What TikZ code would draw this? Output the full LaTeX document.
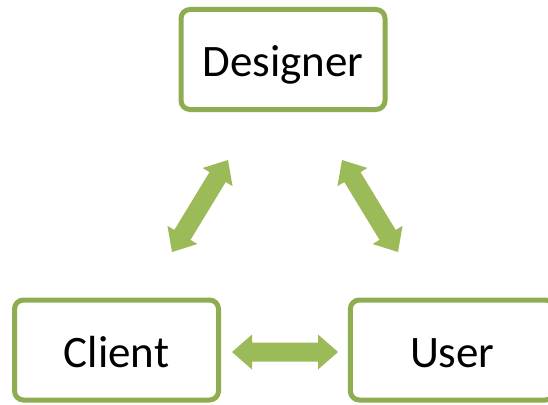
\documentclass[tikz,border=0pt]{standalone}
\usepackage{fontspec}
\setmainfont{Carlito}
\usetikzlibrary{calc}
\definecolor{boxline}{HTML}{8EAC50}
\definecolor{arrowfill}{HTML}{9BBB59}
\tikzset{
  rolebox/.style={draw=boxline, line width=5pt, rounded corners=9pt, fill=white,
    minimum width=204pt, minimum height=100pt, inner sep=0pt,
    text height=34pt, text depth=0pt,
    font=\fontsize{45}{54}\selectfont},
}
% double-headed block arrow between two named coordinates
\newcommand\blockarrow[2]{%
  \coordinate (h1) at ($(#1)!20pt!(#2)$);
  \coordinate (h2) at ($(#2)!20pt!(#1)$);
  \fill[arrowfill] (#1)
    -- ($(h1)!17.5pt!90:(#2)$) -- ($(h1)!9.5pt!90:(#2)$)
    -- ($(h2)!9.5pt!-90:(#1)$) -- ($(h2)!17.5pt!-90:(#1)$)
    -- (#2)
    -- ($(h2)!17.5pt!90:(#1)$) -- ($(h2)!9.5pt!90:(#1)$)
    -- ($(h1)!9.5pt!-90:(#2)$) -- ($(h1)!17.5pt!-90:(#2)$)
    -- cycle;}
\begin{document}
\begin{tikzpicture}[x=1pt, y=-1pt]
  \useasboundingbox (0,0) rectangle (548,404);
  \clip (0,0) rectangle (548,404);
  \node[rolebox] (designer) at (283,59.5) {Designer};
  \node[rolebox] (client) at (116.5,350) {Client};
  \node[rolebox] (user) at (452.3,350) {User};
  % arrow ends
  \coordinate (dcl) at (172,252);
  \coordinate (dcu) at (228,160);
  \coordinate (dul) at (342,160);
  \coordinate (duu) at (398,252);
  \coordinate (cul) at (232,352);
  \coordinate (cuu) at (338,352);
  \blockarrow{dcl}{dcu}
  \blockarrow{dul}{duu}
  \blockarrow{cul}{cuu}
\end{tikzpicture}
\end{document}
